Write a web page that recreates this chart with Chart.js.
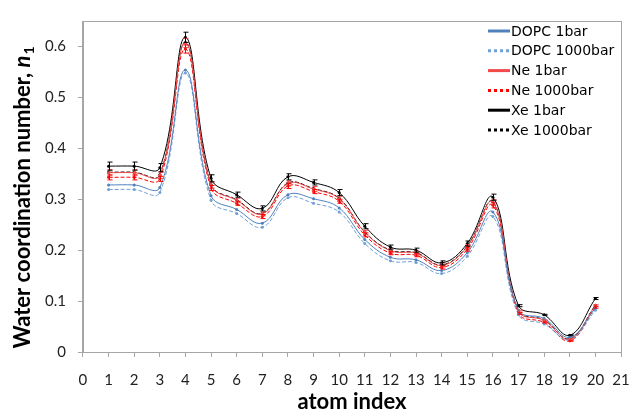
<!DOCTYPE html>
<html>
<head>
<meta charset="utf-8">
<script src="https://cdn.jsdelivr.net/npm/chart.js@4"></script>
<style>
  html, body { margin: 0; padding: 0; background: #fff; }
  #wrap { width: 631px; height: 411px; }
</style>
</head>
<body>
<div id="wrap"><canvas id="myChart"></canvas></div>
<script>
// atom index on the x axis
var atoms = [1, 2, 3, 4, 5, 6, 7, 8, 9, 10, 11, 12, 13, 14, 15, 16, 17, 18, 19, 20];
var yTicks = [0, 0.1, 0.2, 0.3, 0.4, 0.5, 0.6];

var dopc1 = [0.328, 0.328, 0.323, 0.554, 0.307, 0.280, 0.253, 0.309, 0.301, 0.283, 0.221, 0.186, 0.181, 0.160, 0.195, 0.275, 0.082, 0.066, 0.029, 0.086];
var dopc1000 = [0.319, 0.319, 0.313, 0.548, 0.298, 0.272, 0.245, 0.303, 0.292, 0.275, 0.213, 0.179, 0.176, 0.154, 0.188, 0.266, 0.073, 0.055, 0.024, 0.082];
var ne1 = [0.352, 0.352, 0.347, 0.607, 0.328, 0.298, 0.271, 0.331, 0.320, 0.301, 0.235, 0.199, 0.194, 0.170, 0.207, 0.294, 0.080, 0.062, 0.025, 0.091];
var ne1000 = [0.343, 0.343, 0.340, 0.595, 0.322, 0.292, 0.266, 0.326, 0.315, 0.296, 0.230, 0.194, 0.190, 0.166, 0.202, 0.288, 0.076, 0.058, 0.022, 0.088];
var xe1 = [0.365, 0.365, 0.362, 0.618, 0.341, 0.309, 0.282, 0.344, 0.333, 0.313, 0.247, 0.206, 0.200, 0.175, 0.213, 0.304, 0.091, 0.073, 0.033, 0.105];
var xe1000 = [0.353, 0.353, 0.348, 0.608, 0.329, 0.299, 0.272, 0.332, 0.321, 0.302, 0.236, 0.200, 0.195, 0.171, 0.208, 0.295, 0.081, 0.063, 0.026, 0.092];

// error bars (half widths)
var xe1Err = [0.008, 0.008, 0.008, 0.010, 0.007, 0.005, 0.005, 0.006, 0.005, 0.006, 0.005, 0.004, 0.004, 0.004, 0.005, 0.006, 0.002, 0.001, 0.001, 0.002];
var ne1Err = [0.006, 0.006, 0.006, 0.009, 0.006, 0.004, 0.004, 0.005, 0.005, 0.005, 0.004, 0.004, 0.004, 0.003, 0.004, 0.005, 0.002, 0.001, 0.001, 0.002];
var ne1000Err = [0.005, 0.005, 0.005, 0.008, 0.005, 0.004, 0.004, 0.005, 0.004, 0.004, 0.004, 0.003, 0.003, 0.003, 0.004, 0.005, 0.002, 0.001, 0.001, 0.002];

function pts(vals) {
    return atoms.map(function (a, i) { return { x: a, y: vals[i] }; });
}

function series(label, vals, color, dashed, errs) {
    return {
        label: label,
        data: pts(vals),
        borderColor: color,
        backgroundColor: color,
        borderWidth: 1,
        borderDash: dashed ? [4, 2] : [],
        pointRadius: 1.5,
        pointBorderWidth: 0,
        tension: 0.4,
        dashedLegend: dashed,
        errors: errs
    };
}

// thin box round the plot area
var frame = {
    id: 'frame',
    beforeDatasetsDraw: function (chart) {
        var a = chart.chartArea, c = chart.ctx;
        c.save();
        c.strokeStyle = '#a6a6a6';
        c.lineWidth = 1;
        c.strokeRect(Math.round(a.left) + 0.5, Math.round(a.top) + 0.5, Math.round(a.right - a.left), Math.round(a.bottom - a.top));
        c.restore();
    }
};

var errorBars = {
    id: 'errorBars',
    afterDatasetsDraw: function (chart) {
        var c = chart.ctx, xs = chart.scales.x, ys = chart.scales.y;
        c.save();
        c.lineWidth = 1;
        chart.data.datasets.forEach(function (ds) {
            if (!ds.errors) return;
            c.strokeStyle = ds.borderColor;
            ds.data.forEach(function (p, i) {
                var e = ds.errors[i];
                var px = Math.round(xs.getPixelForValue(p.x)) + 0.5;
                var y1 = ys.getPixelForValue(p.y + e), y2 = ys.getPixelForValue(p.y - e);
                c.beginPath();
                c.moveTo(px, y1); c.lineTo(px, y2);
                c.moveTo(px - 2, y1); c.lineTo(px + 3, y1);
                c.moveTo(px - 2, y2); c.lineTo(px + 3, y2);
                c.stroke();
            });
        });
        c.restore();
    }
};

// legend drawn inside the plot, top right, plus both axis titles (y one has italic n and subscript)
var extras = {
    id: 'extras',
    afterDraw: function (chart) {
        var c = chart.ctx, a = chart.chartArea;
        c.save();
        c.font = '14px "DejaVu Sans"';
        c.textBaseline = 'middle';
        chart.data.datasets.forEach(function (ds, i) {
            var y = 31 + i * 19.8;
            c.strokeStyle = ds.borderColor;
            c.lineWidth = 3;
            c.setLineDash(ds.dashedLegend ? [3, 3] : []);
            c.beginPath();
            c.moveTo(488, y); c.lineTo(510, y);
            c.stroke();
            c.setLineDash([]);
            c.fillStyle = '#000';
            c.fillText(ds.label, 511, y + 1);
        });

        c.fillStyle = '#000';
        c.font = 'bold 22px Lato';
        c.textAlign = 'center';
        c.fillText('atom index', (a.left + a.right) / 2, 402);
        c.textAlign = 'left';

        c.translate(22, 198);
        c.rotate(-Math.PI / 2);
        var f1 = 'bold 22px Lato', f2 = 'italic bold 22px Lato', f3 = 'bold 14px Lato';
        var t1 = 'Water coordination number, ';
        c.font = f1; var w1 = c.measureText(t1).width;
        c.font = f2; var w2 = c.measureText('n').width;
        c.font = f3; var w3 = c.measureText('1').width;
        var x0 = -(w1 + w2 + w3) / 2;
        c.textBaseline = 'alphabetic';
        c.font = f1; c.fillText(t1, x0, 8);
        c.font = f2; c.fillText('n', x0 + w1, 8);
        c.font = f3; c.fillText('1', x0 + w1 + w2 + 1, 12);
        c.restore();
    }
};

var ctx = document.getElementById('myChart').getContext('2d');
var chart = new Chart(ctx, {
    type: 'line',
    data: {
        datasets: [
            series('DOPC 1bar', dopc1, '#4f81bd', false, null),
            series('DOPC 1000bar', dopc1000, '#6fa0d8', true, null),
            series('Ne 1bar', ne1, '#f04a4a', false, ne1Err),
            series('Ne 1000bar', ne1000, '#ff0000', true, ne1000Err),
            series('Xe 1bar', xe1, '#000000', false, xe1Err),
            series('Xe 1000bar', xe1000, '#000000', true, null)
        ]
    },
    options: {
        responsive: true,
        maintainAspectRatio: false,
        animation: false,
        layout: { padding: { left: 33, top: 13, right: 0, bottom: 8 } },
        plugins: {
            legend: { display: false },
            tooltip: { enabled: false }
        },
        scales: {
            x: {
                type: 'linear',
                min: 0,
                max: 21,
                afterFit: function (s) { s.paddingRight = 10; },
                ticks: { stepSize: 1, color: '#222', padding: 14, font: { family: 'Lato', size: 15 } },
                grid: { drawOnChartArea: false, color: '#a6a6a6', tickLength: 5 },
                border: { color: '#a6a6a6' }
            },
            y: {
                min: 0,
                max: 0.65,
                afterBuildTicks: function (s) {
                    s.ticks = yTicks.map(function (v) { return { value: v }; });
                },
                ticks: {
                    color: '#222',
                    padding: 12,
                    font: { family: 'Lato', size: 15 },
                    callback: function (v) { return String(Math.round(v * 10) / 10); }
                },
                grid: { drawOnChartArea: false, color: '#a6a6a6', tickLength: 5 },
                border: { color: '#a6a6a6' }
            }
        }
    },
    plugins: [frame, errorBars, extras]
});
</script>
</body>
</html>
